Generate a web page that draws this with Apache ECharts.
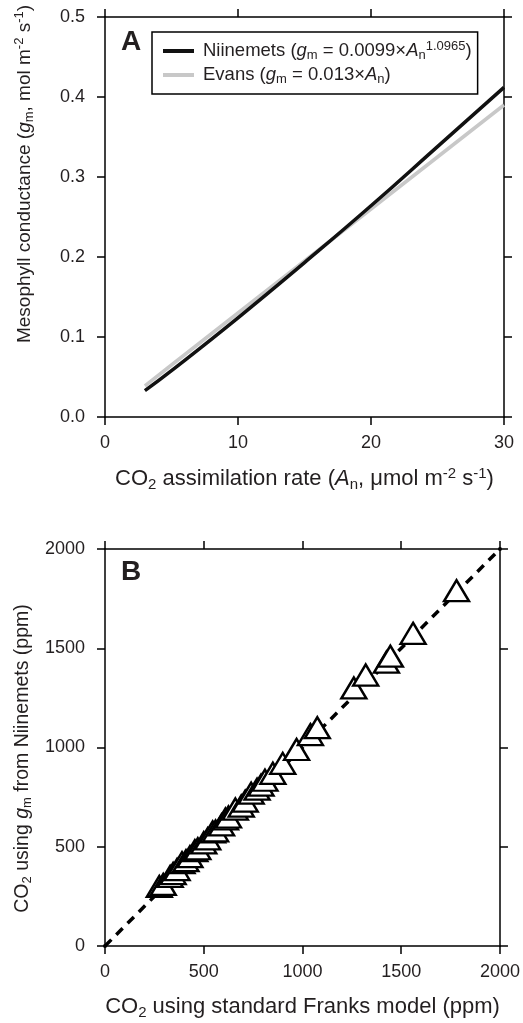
<!DOCTYPE html>
<html>
<head>
<meta charset="utf-8">
<script src="https://cdn.jsdelivr.net/npm/echarts@6/dist/echarts.min.js"></script>
<style>
  html, body { margin: 0; padding: 0; background: #fff; }
  #chart { width: 523px; height: 1023px; }
</style>
</head>
<body>
<div id="chart"></div>
<script>
// panel A: mesophyll conductance vs assimilation rate
const anVals = [3, 5, 10, 15, 20, 25, 30];
const niinemetsGm = [0.033, 0.058, 0.124, 0.193, 0.264, 0.338, 0.412];
const evansGm = [0.039, 0.065, 0.130, 0.195, 0.260, 0.325, 0.390];
const aXTicks = [0, 10, 20, 30];
const aYTicks = [0, 0.1, 0.2, 0.3, 0.4, 0.5];

// panel B: CO2 estimates, Franks vs Niinemets gm
const franksCO2 = [275, 295, 330, 345, 365, 390, 410, 430, 455, 470, 500, 520, 545, 560, 590,
    610, 625, 660, 690, 710, 740, 770, 790, 810, 850, 900, 970, 1040, 1075, 1260, 1320, 1425, 1445, 1560, 1780];
const niinemetsCO2 = [300, 310, 350, 365, 385, 420, 430, 450, 480, 490, 520, 540, 575, 580, 610,
    640, 650, 690, 705, 730, 770, 790, 810, 835, 870, 920, 990, 1065, 1100, 1300, 1365, 1430, 1460, 1575, 1790];
const oneToOne = [0, 2000];
const bTicks = [0, 500, 1000, 1500, 2000];

const FONT = 'Liberation Sans';
const INK = '#231f20';

// rich text pieces for italics, subscripts, superscripts
function makeRich(size, lh) {
    const small = Math.round(size * 0.68);
    return {
        i: { fontFamily: FONT, fontSize: size, fontStyle: 'italic', color: INK, lineHeight: lh },
        sub: { fontFamily: FONT, fontSize: small, color: INK, lineHeight: small, verticalAlign: 'bottom' },
        sup: { fontFamily: FONT, fontSize: small, color: INK, lineHeight: small, verticalAlign: 'top' }
    };
}

function nameStyle(size, pad) {
    return {
        fontFamily: FONT, fontSize: size, color: INK, lineHeight: size + 4,
        padding: pad || 0, rich: makeRich(size, size + 4)
    };
}

function mainAxis(grid, pos, ticks, name, gap, nameSize, fmt, margin, pad) {
    return {
        type: 'value', gridIndex: grid, position: pos,
        min: ticks[0], max: ticks[ticks.length - 1], interval: ticks[1] - ticks[0],
        name: name, nameLocation: 'middle', nameGap: gap, nameTextStyle: nameStyle(nameSize, pad),
        axisLine: { show: true, onZero: false, lineStyle: { color: '#000', width: 1.5 } },
        axisTick: { show: true, length: 8, lineStyle: { color: '#000', width: 1.5 } },
        axisLabel: { show: true, color: INK, fontFamily: FONT, fontSize: 18, margin: margin, formatter: fmt },
        splitLine: { show: false }
    };
}

function frameAxis(grid, pos, ticks) {
    return {
        type: 'value', gridIndex: grid, position: pos,
        min: ticks[0], max: ticks[ticks.length - 1], interval: ticks[1] - ticks[0],
        axisLine: { show: true, onZero: false, lineStyle: { color: '#000', width: 1.5 } },
        axisTick: { show: true, length: 8, lineStyle: { color: '#000', width: 1.5 } },
        axisLabel: { show: false },
        splitLine: { show: false }
    };
}

const plain = function (v) { return String(v); };
const oneDec = function (v) { return v.toFixed(1); };

const chart = echarts.init(document.getElementById('chart'), null, { renderer: 'canvas' });

chart.setOption({
    backgroundColor: '#fff',
    animation: false,
    grid: [
        { left: 105, top: 17, width: 399, height: 400 },
        { left: 105, top: 549, width: 399, height: 397 }
    ],
    xAxis: [
        mainAxis(0, 'bottom', aXTicks, 'CO{sub|2} assimilation rate ({i|A}{sub|n}, μmol m{sup|-2} s{sup|-1})', 49, 22, plain, 17),
        frameAxis(0, 'top', aXTicks),
        mainAxis(1, 'bottom', bTicks, 'CO{sub|2} using standard Franks model (ppm)', 48, 22, plain, 17),
        frameAxis(1, 'top', bTicks)
    ],
    yAxis: [
        // name sits higher than the axis middle in the original
        mainAxis(0, 'left', aYTicks, 'Mesophyll conductance ({i|g}{sub|m}, mol m{sup|-2} s{sup|-1})', 69, 19, oneDec, 20, [0, 0, 0, 86]),
        frameAxis(0, 'right', aYTicks),
        mainAxis(1, 'left', bTicks, 'CO{sub|2} using {i|g}{sub|m} from Niinemets (ppm)', 70, 19.5, plain, 20, [0, 22, 0, 0]),
        frameAxis(1, 'right', bTicks)
    ],
    legend: {
        data: ['Niinemets', 'Evans'],
        orient: 'vertical',
        left: 152, top: 32,
        padding: [8, 6, 8, 11],
        itemGap: 2,
        itemWidth: 31, itemHeight: 4,
        icon: 'rect',
        borderColor: '#000', borderWidth: 1.5, borderRadius: 0,
        textStyle: { fontFamily: FONT, fontSize: 18.5, color: INK, lineHeight: 22, padding: [0, 0, 0, 4], rich: makeRich(18.5, 22) },
        formatter: function (name) {
            if (name === 'Niinemets') {
                return 'Niinemets ({i|g}{sub|m} = 0.0099×{i|A}{sub|n}{sup|1.0965})';
            }
            return 'Evans ({i|g}{sub|m} = 0.013×{i|A}{sub|n})';
        }
    },
    graphic: [
        { type: 'text', left: 121, top: 28, style: { text: 'A', font: 'bold 28px "Liberation Sans"', fill: INK } },
        { type: 'text', left: 121, top: 558, style: { text: 'B', font: 'bold 28px "Liberation Sans"', fill: INK } }
    ],
    series: [
        {
            name: 'Evans', type: 'line', xAxisIndex: 0, yAxisIndex: 0,
            data: anVals.map(function (a, i) { return [a, evansGm[i]]; }),
            showSymbol: false, symbol: 'none',
            itemStyle: { color: '#c8c8c8' },
            lineStyle: { color: '#c8c8c8', width: 3.5 }
        },
        {
            name: 'Niinemets', type: 'line', xAxisIndex: 0, yAxisIndex: 0,
            data: anVals.map(function (a, i) { return [a, niinemetsGm[i]]; }),
            showSymbol: false, symbol: 'none', smooth: true,
            itemStyle: { color: '#111' },
            lineStyle: { color: '#111', width: 3.5 }
        },
        {
            name: '1:1', type: 'line', xAxisIndex: 2, yAxisIndex: 2,
            data: oneToOne.map(function (v) { return [v, v]; }),
            symbol: 'circle', symbolSize: 4, showSymbol: true,
            itemStyle: { color: '#000' },
            lineStyle: { color: '#000', width: 3.5, type: [9, 7] },
            z: 2
        },
        {
            name: 'CO2', type: 'scatter', xAxisIndex: 2, yAxisIndex: 2,
            data: franksCO2.map(function (f, i) { return [f, niinemetsCO2[i]]; }),
            symbol: 'triangle', symbolSize: [25, 21],
            itemStyle: { color: '#fff', borderColor: '#000', borderWidth: 2.4, opacity: 1 },
            z: 3
        }
    ]
});
</script>
</body>
</html>
